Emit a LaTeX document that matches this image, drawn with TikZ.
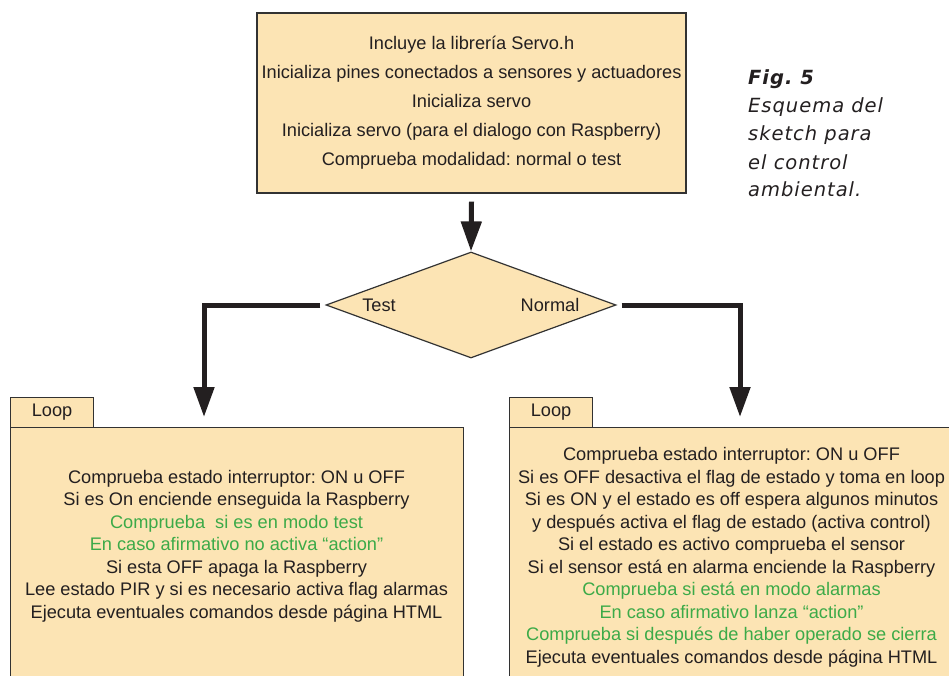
\documentclass[tikz,border=0pt]{standalone}
\usepackage{fontspec}
\setmainfont{Liberation Sans}
\newfontfamily\capfont[LetterSpace=5]{DejaVu Sans}
\usetikzlibrary{shapes.geometric,arrows.meta}
\definecolor{boxfill}{RGB}{252,228,180}
\definecolor{boxline}{RGB}{50,50,50}
\definecolor{notegreen}{RGB}{60,170,72}
\definecolor{ink}{RGB}{35,31,32}
\frenchspacing

\begin{document}
\begin{tikzpicture}[x=1pt,y=-1pt,
  every node/.style={font=\fontsize{18.2}{22.5}\selectfont, text=ink},
  panel/.style={draw=boxline, fill=boxfill, line width=1.2pt, inner sep=0pt, anchor=north west},
  flow/.style={line width=5pt, draw=ink, -{Triangle[length=30pt,width=20pt]}},
  steps/.style={align=center, inner sep=0pt}]
\useasboundingbox (0,0) rectangle (949,676);

% setup block
\node (setup) [panel, anchor=center, minimum width=429pt, minimum height=180pt,
  align=center, font=\fontsize{18.2}{29}\selectfont] at (471.5,103)
  {Incluye la librería Servo.h\\
   Inicializa pines conectados a sensores y actuadores\\
   Inicializa servo\\
   Inicializa servo (para el dialogo con Raspberry)\\
   Comprueba modalidad: normal o test};

% caption (base anchor sits on the last line)
\node (caption) [anchor=base west, align=left, inner sep=0pt,
  font=\capfont\fontsize{19.5}{28}\selectfont\itshape] at (748,197)
  {\textbf{Fig. 5}\\ Esquema del\\ sketch para\\ el control\\ ambiental.};

% mode decision
\node (choice) [shape=diamond, draw=boxline, fill=boxfill, line width=1.2pt,
  minimum width=290pt, minimum height=106pt, inner sep=0pt] at (471,305) {};
\node (testlbl) at (379,305) {Test};
\node (normlbl) at (550,305) {Normal};

% loop panels
\node (testbox) [panel, minimum width=453pt, minimum height=270pt] at (10,427) {};
\node (testtab) [panel, minimum width=83pt, minimum height=30pt] at (10,397) {Loop};
\node (normbox) [panel, minimum width=450pt, minimum height=270pt] at (509,427) {};
\node (normtab) [panel, minimum width=83pt, minimum height=30pt] at (509,397) {Loop};

\node (testtext) [steps] at (236.5,546)
  {Comprueba estado interruptor: ON u OFF\\
   Si es On enciende enseguida la Raspberry\\
   {\color{notegreen}Comprueba\ \ si es en modo test}\\
   {\color{notegreen}En caso afirmativo no activa “action”}\\
   Si esta OFF apaga la Raspberry\\
   Lee estado PIR y si es necesario activa flag alarmas\\
   Ejecuta eventuales comandos desde página HTML};

\node (normtext) [steps] at (731.5,557.5)
  {Comprueba estado interruptor: ON u OFF\\
   Si es OFF desactiva el flag de estado y toma en loop\\
   Si es ON y el estado es off espera algunos minutos\\
   y después activa el flag de estado (activa control)\\
   Si el estado es activo comprueba el sensor\\
   Si el sensor está en alarma enciende la Raspberry\\
   {\color{notegreen}Comprueba si está en modo alarmas}\\
   {\color{notegreen}En caso afirmativo lanza “action”}\\
   {\color{notegreen}Comprueba si después de haber operado se cierra}\\
   Ejecuta eventuales comandos desde página HTML};

% connectors
\coordinate (testtip) at (204,417);
\coordinate (normtip) at (740,417);
\draw[flow] ([yshift=-8pt]setup.south) -- (choice.north);
\draw[flow] ([xshift=-5pt]choice.west) -| (testtip);
\draw[flow] ([xshift=5pt]choice.east) -| (normtip);
\end{tikzpicture}
\end{document}
